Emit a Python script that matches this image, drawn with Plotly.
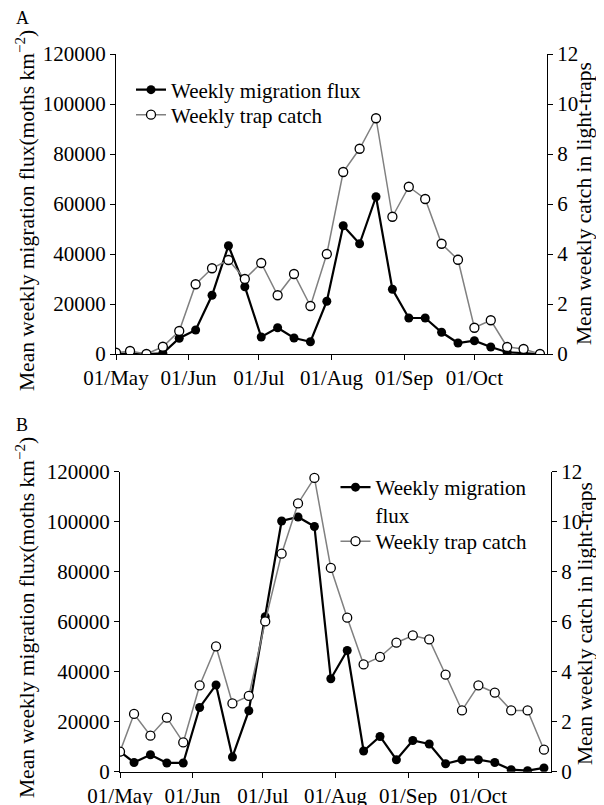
import plotly.graph_objects as go

# ---- data ----
dates = ["2015-05-01", "2015-05-07", "2015-05-14", "2015-05-21", "2015-05-28",
         "2015-06-04", "2015-06-11", "2015-06-18", "2015-06-25",
         "2015-07-02", "2015-07-09", "2015-07-16", "2015-07-23", "2015-07-30",
         "2015-08-06", "2015-08-13", "2015-08-20", "2015-08-27",
         "2015-09-03", "2015-09-10", "2015-09-17", "2015-09-24",
         "2015-10-01", "2015-10-08", "2015-10-15", "2015-10-22", "2015-10-29"]

flux_A = [0, 300, 0, 300, 6300, 9600, 23500, 43300, 26900, 6800, 10500, 6400, 4900, 21100,
          51300, 44100, 62900, 25900, 14400, 14400, 8700, 4400, 5300, 2800, 700, 300, 0]
catch_A = [0.05, 0.12, 0.0, 0.29, 0.92, 2.79, 3.43, 3.76, 3.0, 3.64, 2.35, 3.2, 1.92, 4.0,
           7.28, 8.21, 9.43, 5.49, 6.69, 6.2, 4.41, 3.77, 1.05, 1.35, 0.28, 0.2, 0.0]

flux_B = [8000, 3700, 6800, 3500, 3500, 25700, 34700, 5900, 24400, 62000, 100300, 101900, 98100,
          37200, 48500, 8300, 14100, 4800, 12500, 11100, 3200, 4800, 4800, 3700, 800, 400, 1500]
catch_B = [0.8, 2.31, 1.44, 2.16, 1.17, 3.45, 5.01, 2.73, 3.03, 6.01, 8.72, 10.73, 11.75,
           8.15, 6.16, 4.29, 4.59, 5.16, 5.45, 5.29, 3.88, 2.45, 3.45, 3.16, 2.45, 2.45, 0.88]

month_ticks = ["2015-05-01", "2015-06-01", "2015-07-01", "2015-08-01", "2015-09-01", "2015-10-01"]
month_labels = ["01/May", "01/Jun", "01/Jul", "01/Aug", "01/Sep", "01/Oct"]
x_range = ["2015-05-01", "2015-11-01"]

FONT = "Liberation Serif"
OFF = 8                      # page body margin
W, H = 604 - OFF, 805 - OFF  # figure size so it fits the window

def px_x(p):
    return (p - OFF) / W

def px_y(p):
    return 1 - (p - OFF) / H

fig = go.Figure()

flux_style = dict(mode="lines+markers", line=dict(color="black", width=2.2),
                  marker=dict(color="black", size=9, symbol="circle"))
catch_style = dict(mode="lines+markers", line=dict(color="#808080", width=1.5),
                   marker=dict(color="white", size=9, symbol="circle",
                               line=dict(color="black", width=1.3)))

fig.add_trace(go.Scatter(x=dates, y=flux_A, name="Weekly migration flux",
                         xaxis="x", yaxis="y", legend="legend", **flux_style))
fig.add_trace(go.Scatter(x=dates, y=catch_A, name="Weekly trap catch",
                         xaxis="x", yaxis="y2", legend="legend3", **catch_style))
fig.add_trace(go.Scatter(x=dates, y=flux_B, name="Weekly migration<br>flux",
                         xaxis="x2", yaxis="y3", legend="legend2", **flux_style))
fig.add_trace(go.Scatter(x=dates, y=catch_B, name="Weekly trap catch",
                         xaxis="x2", yaxis="y4", legend="legend4", **catch_style))

tickfont = dict(family=FONT, size=21, color="black")
common_axis = dict(showline=True, linecolor="black", linewidth=1.3, ticks="outside",
                   ticklen=5, tickwidth=1.3, tickcolor="black", showgrid=False,
                   zeroline=False, automargin=False, tickfont=tickfont)

xA = [px_x(116), px_x(547)]
yA = [px_y(354), px_y(54)]
xB = [px_x(120), px_x(551)]
yB = [px_y(771.7), px_y(471.7)]

legend_font = dict(family=FONT, size=21, color="black")

def legend_at(x, y):
    return dict(x=px_x(x), y=px_y(y), xanchor="left", yanchor="middle", font=legend_font,
                bgcolor="rgba(0,0,0,0)", valign="top", tracegroupgap=0, itemwidth=30)

fig.update_layout(
    template="none",
    width=W, height=H, margin=dict(l=0, r=0, t=0, b=0, autoexpand=False),
    paper_bgcolor="white", plot_bgcolor="white",
    xaxis=dict(domain=xA, anchor="y", type="date", range=x_range,
               tickvals=month_ticks, ticktext=month_labels, **common_axis),
    yaxis=dict(domain=yA, anchor="x", range=[0, 120000], dtick=20000,
               tickformat="d", **common_axis),
    yaxis2=dict(overlaying="y", anchor="x", side="right", range=[0, 12], dtick=2,
                **common_axis),
    xaxis2=dict(domain=xB, anchor="y3", type="date", range=x_range,
                tickvals=month_ticks, ticktext=month_labels, **common_axis),
    yaxis3=dict(domain=yB, anchor="x2", range=[0, 120000], dtick=20000,
                tickformat="d", **common_axis),
    yaxis4=dict(overlaying="y3", anchor="x2", side="right", range=[0, 12], dtick=2,
                **common_axis),
    legend=legend_at(131, 90),
    legend3=legend_at(131, 115),
    legend2=legend_at(335.5, 501),
    legend4=legend_at(335.5, 541.5),
    showlegend=True,
)

title_font = dict(family=FONT, size=21.5, color="black")
fig.add_annotation(text="A", x=px_x(14), y=px_y(18.5), xref="paper", yref="paper",
                   xanchor="left", yanchor="middle", showarrow=False,
                   font=dict(family=FONT, size=18, color="black"))
fig.add_annotation(text="B", x=px_x(14), y=px_y(425), xref="paper", yref="paper",
                   xanchor="left", yanchor="middle", showarrow=False,
                   font=dict(family=FONT, size=18, color="black"))

left_title = "Mean weekly migration flux(moths km<sup>\u22122</sup>)"
right_title = "Mean weekly catch in light-traps"
for (txt, xc, yc) in [(left_title, 25, 211), (right_title, 584, 204),
                      (left_title, 25, 618), (right_title, 585, 624)]:
    fig.add_annotation(text=txt, x=px_x(xc), y=px_y(yc), xref="paper", yref="paper",
                       xanchor="center", yanchor="middle", textangle=-90, showarrow=False,
                       font=title_font)

fig.write_html("out.html")
